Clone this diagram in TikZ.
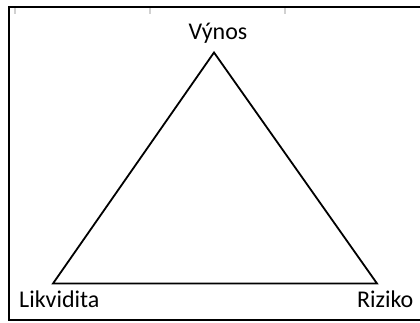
\documentclass[tikz,border=0pt]{standalone}
\usepackage{fontspec}
\setmainfont{Carlito}
\begin{document}
\begin{tikzpicture}[x=1pt,y=-1pt,
  lbl/.style={inner sep=0pt,font=\fontsize{24}{28}\selectfont},
  frameline/.style={line width=2.4pt,black},
  tri/.style={line width=1.8pt,black,line join=miter},
  tick/.style={line width=1.2pt,black!18}]
\useasboundingbox (0,0) rectangle (420,323);
% frame (right side cropped off)
\draw[frameline] (422,7) -- (9,7) -- (9,320) -- (422,320);
% faint grid ticks
\foreach \x in {15,150,285} \draw[tick] (\x,8.5) -- (\x,14);
% triangle
\coordinate (top) at (214,52.5);
\coordinate (bl) at (53,283.5);
\coordinate (br) at (377,283.5);
\draw[tri] (top) -- (bl) -- (br) -- cycle;
% labels
\node[lbl,anchor=base] (vynos) at (218,40) {Výnos};
\node[lbl,anchor=base west] (likv) at (19,307) {Likvidita};
\node[lbl,anchor=base east] (riz) at (413.5,307) {Riziko};
\end{tikzpicture}
\end{document}
